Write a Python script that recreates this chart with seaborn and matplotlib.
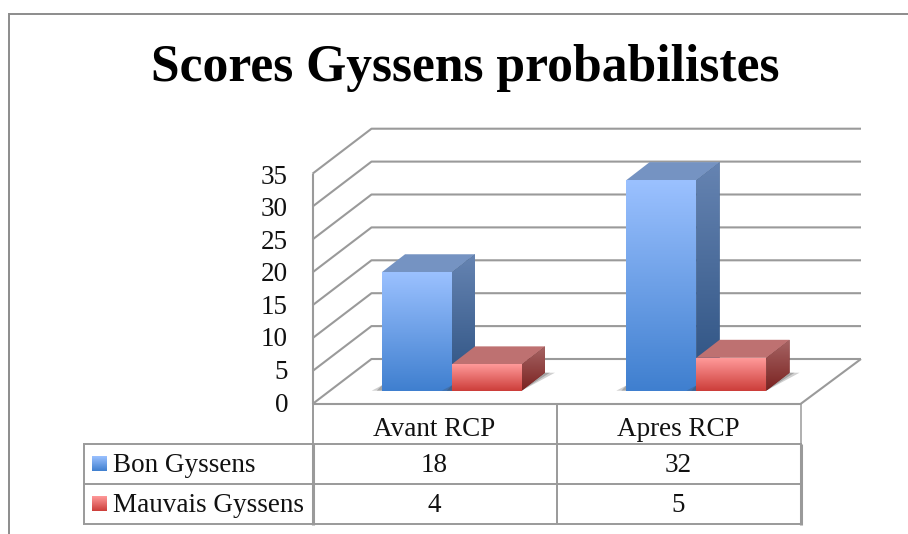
import numpy as np
import pandas as pd
import matplotlib
matplotlib.use("Agg")
import matplotlib.pyplot as plt
from matplotlib.colors import LinearSegmentedColormap, to_rgb
from matplotlib.patches import Polygon
import seaborn as sns

# ---- data ----
categories = ["Avant RCP", "Apres RCP"]
series_names = ["Bon Gyssens", "Mauvais Gyssens"]
bon_gyssens = [18, 32]
mauvais_gyssens = [4, 5]
y_ticks = [0, 5, 10, 15, 20, 25, 30, 35]
title = "Scores Gyssens probabilistes"

df = pd.DataFrame({
    "cat": categories * 2,
    "serie": [series_names[0]] * 2 + [series_names[1]] * 2,
    "val": bon_gyssens + mauvais_gyssens,
})

sns.set_theme(style="white")
plt.rcParams["font.family"] = ["Liberation Serif", "DejaVu Serif"]

W, H = 908, 534
fig = plt.figure(figsize=(W / 100, H / 100), dpi=100)
ax = fig.add_axes([0, 0, 1, 1])

FRONT = {"top": "#9BC1FF", "bot": "#3F7FCF"}, {"top": "#FF9A9A", "bot": "#CC3D39"}
SIDE = {"top": "#6684B2", "bot": "#2B5080"}, {"top": "#A66464", "bot": "#7A2220"}
TOP = "#7593C2", "#BE7171"
GRID = "#9A9A9A"

sns.barplot(data=df, x="cat", y="val", hue="serie", hue_order=series_names,
            order=categories, width=0.572, dodge=True, legend=False, ax=ax,
            palette=[FRONT[0]["bot"], FRONT[1]["bot"]], saturation=1)

# scale: category spacing and value unit in pixels
XS, YS = 244.6, 6.58
X0, Y0 = 451.7, 390.7
xlim = ((0 - X0) / XS, (W - X0) / XS)
ylim = ((Y0 - H) / YS, Y0 / YS)


def px(x):
    return (x - X0) / XS


def py(y):
    return (Y0 - y) / YS


DX, DY = 23.3 / XS, 18.0 / YS
cmap = lambda a, b: LinearSegmentedColormap.from_list("g", [to_rgb(b), to_rgb(a)])
grad = np.linspace(0, 1, 256).reshape(-1, 1)


def gradient(patch_or_poly, extent, top, bot, z):
    im = ax.imshow(grad, origin="lower", extent=extent, aspect="auto",
                   cmap=cmap(top, bot), vmin=0, vmax=1, zorder=z,
                   interpolation="bilinear")
    im.set_clip_path(patch_or_poly)


def line(xs, ys, lw=1.5, c=GRID, z=1):
    ax.plot([px(x) for x in xs], [py(y) for y in ys], color=c, lw=lw, zorder=z,
            solid_capstyle="butt")


# ---- walls, floor ----
WL, WR, BR = 312.5, 800.5, 861
FLOOR_F, FLOOR_B = 404, 359
BL = 371.5
UNIT = YS
line([WL, WL], [FLOOR_F, FLOOR_F - 35 * UNIT])
for v in y_ticks:
    yf = FLOOR_F - v * UNIT
    yb = FLOOR_B - v * UNIT
    line([WL, BL, BR], [yf, yb, yb])
    ax.text(px(288), py(405 - v * 6.51), str(v), ha="right", va="center", fontsize=19.5, color="#111111")
line([WL, WR, BR], [FLOOR_F, FLOOR_F, FLOOR_B])

# ---- 3D bars ----
bars = [p for p in ax.patches if p.get_height() > 0]
bars = sorted(bars, key=lambda p: p.get_x())
for i, b in enumerate(bars):
    k = 0 if b.get_facecolor()[:3] == to_rgb(FRONT[0]["bot"]) else 1
    z = 3 + i
    x0, x1, h = b.get_x(), b.get_x() + b.get_width(), b.get_height()
    for grow, a in ((10, 0.25), (5, 0.30)):
        g = grow / XS
        ax.add_patch(Polygon([(x0 - g, 0), (x1, 0), (x1 + DX + g, DY), (x1 + DX, DY), (x0, 0.8)],
                             closed=True, fc="#444444", ec="none", alpha=a, zorder=z))
    top_face = Polygon([(x0, h), (x1, h), (x1 + DX, h + DY), (x0 + DX, h + DY)],
                       closed=True, fc=TOP[k], ec="none", zorder=z + 0.1)
    ax.add_patch(top_face)
    side = Polygon([(x1, 0), (x1 + DX, DY), (x1 + DX, h + DY), (x1, h)],
                   closed=True, fc=SIDE[k]["bot"], ec="none", zorder=z + 0.1, transform=ax.transData)
    ax.add_patch(side)
    gradient(side, (x1, x1 + DX, 0, h + DY), SIDE[k]["top"], SIDE[k]["bot"], z + 0.2)
    b.set_zorder(z + 0.3)
    b.set_edgecolor("none")
    gradient(b, (x0, x1, 0, h), FRONT[k]["top"], FRONT[k]["bot"], z + 0.4)

# ---- data table ----
T1, T2, T3 = 443.5, 483.5, 523.5
TL, TM = 83.5, 556.5
for y in (T1, T2, T3):
    line([TL - 1, WR + 1], [y, y], lw=1.4, z=2)
line([TL, TL], [T1, T3], lw=1.4, z=2)
line([WL, WL], [FLOOR_F, T1], lw=1.4, z=2)
line([WL, WL], [T1, T3 + 1], lw=2.2, z=2)
line([TM, TM], [FLOOR_F, T3], lw=1.4, z=2)
line([WR, WR], [FLOOR_F, T1], lw=1.1, z=2)
line([WR, WR], [T1, T3 + 1], lw=2.2, z=2)

CELL = 19.5
cols = [(WL + TM) / 2, (TM + WR) / 2]
rows = [(T1 + T2) / 2, (T2 + T3) / 2]
for j, c in enumerate(categories):
    ax.text(px(cols[j]), py(430), c, ha="center", va="center", fontsize=CELL, color="#111111")
for r, vals in enumerate((bon_gyssens, mauvais_gyssens)):
    for j, v in enumerate(vals):
        ax.text(px(cols[j]), py(rows[r] + 2), str(v), ha="center", va="center", fontsize=CELL, color="#111111")
    ax.text(px(113), py(rows[r] + 1.5), series_names[r], ha="left", va="center", fontsize=CELL, color="#111111")
    sw = Polygon([(px(92), py(rows[r] + 7.5)), (px(107), py(rows[r] + 7.5)),
                  (px(107), py(rows[r] - 7.5)), (px(92), py(rows[r] - 7.5))],
                 closed=True, fc=FRONT[r]["bot"], ec="none", zorder=3)
    ax.add_patch(sw)
    gradient(sw, (px(92), px(107), py(rows[r] + 7.5), py(rows[r] - 7.5)),
             FRONT[r]["top"], FRONT[r]["bot"], 3.1)

# ---- title and outer frame ----
ax.text(px(465), py(68.5), title, ha="center", va="center", fontsize=37.2, fontweight="bold", color="black")
line([9, 9], [534, 13], lw=1.4, c="#8C8C8C")
line([8.5, 908], [13.5, 13.5], lw=1.4, c="#8C8C8C")

ax.set_xlim(xlim)
ax.set_ylim(ylim)
ax.axis("off")
fig.savefig("out.png", dpi=100, facecolor="white")
